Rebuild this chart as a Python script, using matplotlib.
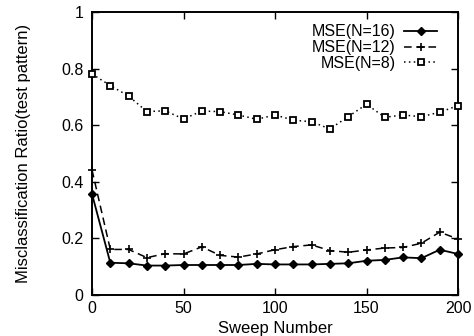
import matplotlib
matplotlib.use("Agg")
import matplotlib.pyplot as plt

sweeps = list(range(0, 201, 10))
mse_n16 = [0.357, 0.114, 0.112, 0.104, 0.104, 0.106, 0.106, 0.106, 0.106, 0.110, 0.108,
           0.108, 0.108, 0.110, 0.112, 0.121, 0.124, 0.133, 0.130, 0.160, 0.145]
mse_n12 = [0.442, 0.161, 0.161, 0.132, 0.146, 0.145, 0.170, 0.140, 0.134, 0.145, 0.160,
           0.171, 0.177, 0.157, 0.151, 0.159, 0.166, 0.168, 0.183, 0.222, 0.198]
mse_n8 = [0.781, 0.740, 0.703, 0.648, 0.651, 0.622, 0.650, 0.648, 0.636, 0.621, 0.636,
          0.618, 0.612, 0.587, 0.630, 0.674, 0.628, 0.636, 0.630, 0.646, 0.669]
labels = ["MSE(N=16)", "MSE(N=12)", "MSE(N=8)"]
xticks = [0, 50, 100, 150, 200]
yticks = [0, 0.2, 0.4, 0.6, 0.8, 1]
ytick_labels = ["0", "0.2", "0.4", "0.6", "0.8", "1"]

plt.rcParams['font.family'] = ['Liberation Sans', 'DejaVu Sans']

fig = plt.figure(figsize=(4.74, 3.36), dpi=100)
ax = fig.add_axes([92/474, 41/336, (458-92)/474, (295-12)/336])

ax.plot(sweeps, mse_n16, color='black', lw=1.3, ls='-', marker='D', ms=4.2,
        mfc='black', mec='black', label=labels[0], clip_on=False, zorder=3)
ax.plot(sweeps, mse_n12, color='black', lw=1.1, ls=(0, (5, 3)), marker='+', ms=6,
        mew=1.2, label=labels[1], clip_on=False, zorder=3)
ax.plot(sweeps, mse_n8, color='black', lw=1.1, ls=(0, (1, 2.2)), marker='s', ms=4.8,
        mfc='white', mec='black', mew=1.3, label=labels[2], clip_on=False, zorder=3)

ax.set_xlim(0, 200)
ax.set_ylim(0, 1)
ax.set_xticks(xticks)
ax.set_xticklabels([str(t) for t in xticks])
ax.set_yticks(yticks)
ax.set_yticklabels(ytick_labels)
ax.tick_params(direction='in', length=5, width=1.0, top=True, right=True,
               labelsize=11.5, pad=4)
ax.tick_params(axis='y', pad=6)
for s in ax.spines.values():
    s.set_linewidth(1.4)

ax.set_xlabel("Sweep Number", fontsize=12, labelpad=4)
ax.set_ylabel("Misclassification Ratio(test pattern)", fontsize=12, labelpad=22)

leg = ax.legend(loc='upper right', bbox_to_anchor=(0.97, 0.99), frameon=False,
                markerfirst=False, fontsize=11.5, handlelength=2.1, handletextpad=0.5,
                labelspacing=0.05, borderaxespad=0.2)
for t in leg.get_texts():
    t.set_ha('right')
leg._legend_box.align = "right"

fig.savefig("out.png", dpi=100)
